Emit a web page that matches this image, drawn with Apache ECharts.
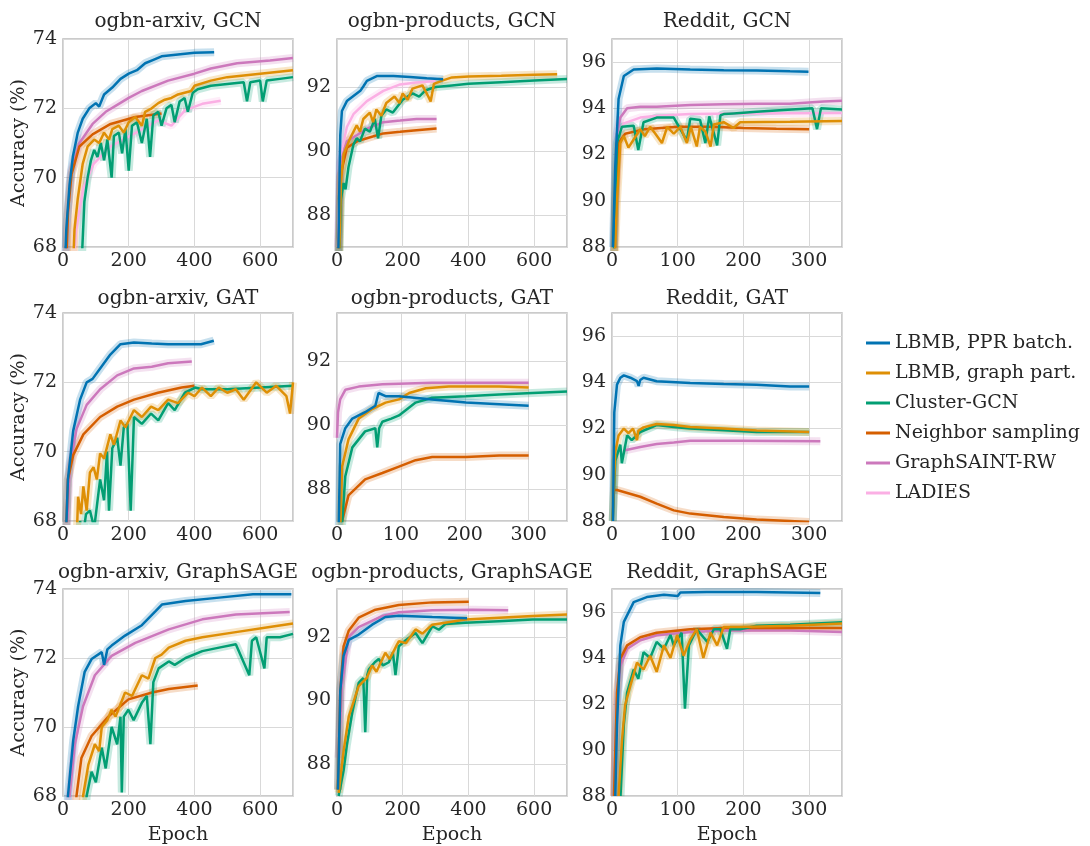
<!DOCTYPE html>
<html>
<head>
<meta charset="UTF-8">
<title>Accuracy vs epoch</title>
<script src="https://cdn.jsdelivr.net/npm/echarts@6/dist/echarts.min.js"></script>
<style>
  body { margin: 0; background: #fff; }
  #chart { width: 1090px; height: 846px; }
</style>
</head>
<body>
<div id="chart"></div>
<script>
// methods in legend order
const METHODS = ['LBMB, PPR batch.', 'LBMB, graph part.', 'Cluster-GCN', 'Neighbor sampling', 'GraphSAINT-RW', 'LADIES'];
const COLORS = ['#0173b2', '#de8f05', '#029e73', '#d55e00', '#cc78bc', '#fbafe4'];

// ---- ogbn-arxiv, GCN  [epoch, accuracy]
const aGcnPPR = [[0,66],[10,68.5],[20,69.8],[30,70.6],[45,71.3],[60,71.7],[80,72.0],[100,72.15],[110,72.05],[125,72.4],[150,72.6],[175,72.85],[200,73.0],[225,73.1],[250,73.3],[275,73.4],[300,73.5],[350,73.55],[400,73.6],[460,73.62]];
const aGcnPart = [[25,66],[35,68.5],[45,69.4],[60,70.4],[75,70.9],[95,71.1],[110,71.0],[125,71.3],[140,71.1],[150,71.4],[170,71.5],[185,71.3],[200,71.6],[220,71.75],[240,71.5],[250,71.9],[270,72.0],[290,72.15],[310,72.25],[330,72.3],[350,72.4],[370,72.45],[390,72.5],[400,72.65],[450,72.8],[500,72.9],[550,72.95],[600,73.0],[650,73.05],[700,73.1]];
const aGcnCluster = [[50,66],[58,67.8],[65,69.3],[75,70.0],[85,70.5],[95,70.8],[105,70.6],[115,71.0],[125,70.5],[135,71.1],[148,70.0],[155,71.2],[170,71.3],[180,70.7],[190,71.4],[200,70.2],[210,71.5],[225,71.6],[240,71.0],[255,71.7],[265,70.6],[275,71.8],[290,71.9],[300,71.5],[315,72.0],[330,72.1],[340,71.6],[355,72.2],[370,72.3],[380,71.9],[395,72.45],[410,72.55],[450,72.65],[500,72.7],[550,72.75],[560,72.2],[570,72.75],[600,72.8],[608,72.2],[620,72.8],[660,72.85],[700,72.9]];
const aGcnNeighbor = [[5,66],[15,69],[26,70.1],[50,70.9],[90,71.25],[145,71.55],[220,71.75],[300,71.85]];
const aGcnSaint = [[0,66],[15,69],[25,70.2],[50,71.0],[90,71.55],[130,71.9],[165,72.1],[200,72.3],[240,72.5],[320,72.8],[400,73.0],[450,73.15],[530,73.3],[630,73.38],[700,73.45]];
const aGcnLadies = [[20,66],[40,68.5],[62,69.7],[93,70.4],[145,70.9],[217,71.27],[289,71.65],[330,71.5],[372,71.95],[424,72.13],[480,72.22]];

// ---- ogbn-products, GCN
const bGcnPPR = [[3,86],[8,89.5],[10,90.5],[15,91.25],[30,91.56],[50,91.72],[71,91.88],[81,92.03],[91,92.19],[121,92.34],[172,92.34],[222,92.31],[273,92.27],[323,92.24]];
const bGcnPart = [[5,86],[12,89],[20,89.9],[40,90.4],[60,90.8],[70,90.6],[80,91.0],[100,91.2],[110,90.9],[120,91.3],[135,91.1],[150,91.5],[175,91.7],[190,91.5],[200,91.8],[215,91.6],[230,91.95],[260,92.05],[278,91.7],[285,91.55],[295,92.1],[320,92.2],[350,92.3],[400,92.33],[500,92.35],[600,92.38],[670,92.4]];
const bGcnCluster = [[5,86],[12,88.5],[20,89.0],[26,88.8],[35,89.5],[50,90.2],[60,90.4],[70,90.3],[85,90.7],[100,90.6],[115,91.0],[125,90.4],[135,91.1],[150,91.3],[170,91.2],[200,91.6],[230,91.8],[250,91.7],[270,91.9],[300,92.0],[350,92.05],[400,92.1],[500,92.15],[600,92.2],[700,92.25]];
const bGcnNeighbor = [[3,86],[10,89.2],[30,90.1],[61,90.3],[91,90.4],[141,90.55],[192,90.6],[242,90.65],[303,90.7]];
const bGcnSaint = [[3,86],[10,89.6],[30,90.3],[61,90.5],[91,90.7],[141,90.9],[192,90.95],[242,91.0],[303,91.0]];
const bGcnLadies = [[3,87],[10,89.8],[30,90.75],[50,91.15],[91,91.56],[141,91.88],[192,92.08],[242,92.14],[300,92.19]];

// ---- Reddit, GCN
const cGcnPPR = [[1.5,88],[5,91.5],[10,94.4],[18,95.4],[33,95.68],[68,95.72],[119,95.68],[170,95.65],[220,95.64],[271,95.6],[299,95.58]];
const cGcnPart = [[4,86],[5,88],[7.6,90],[12.7,92.5],[18,92.8],[25,92.3],[33,92.65],[43,93.1],[50,92.8],[58,93.2],[66,92.9],[76,92.5],[84,93.2],[94,92.9],[104,93.2],[114,92.5],[120,93.2],[129,92.35],[134,93.2],[142,93.0],[150,92.35],[155,93.3],[170,93.4],[185,93.15],[195,93.4],[271,93.42],[350,93.45]];
const cGcnCluster = [[1,86],[5,90.0],[7.6,92.5],[15,93.2],[33,93.25],[40,92.2],[48,93.4],[68,93.6],[94,93.6],[114,92.6],[119,93.55],[134,93.5],[142,92.5],[148,93.65],[160,92.4],[165,93.7],[170,93.75],[185,93.78],[220,93.85],[261,93.93],[305,94.0],[312,93.1],[318,94.0],[350,93.95]];
const cGcnNeighbor = [[2,86],[5,90],[10,92.5],[20,92.9],[50,93.1],[100,93.2],[150,93.2],[200,93.15],[250,93.12],[300,93.1]];
const cGcnSaint = [[1,86],[7.6,92.9],[12.7,93.6],[23,94.0],[43,94.07],[68,94.07],[119,94.14],[170,94.18],[220,94.2],[271,94.2],[322,94.3],[350,94.33]];
const cGcnLadies = [[3,88],[10,92.9],[18,93.35],[43,93.6],[68,93.68],[119,93.75],[200,93.78],[350,93.8]];

// ---- ogbn-arxiv, GAT
const dGatPPR = [[3,66],[15,69.2],[31,70.6],[52,71.5],[72,72.0],[90,72.1],[113,72.4],[144,72.8],[175,73.1],[216,73.15],[270,73.12],[320,73.1],[381,73.1],[420,73.1],[459,73.2]];
const dGatPart = [[40,67],[46,68.7],[55,68.2],[62,69.0],[72,68.3],[82,69.4],[93,69.55],[103,69.2],[113,69.95],[125,69.8],[144,70.5],[155,70.2],[175,70.9],[190,70.7],[216,71.2],[240,71.0],[268,71.3],[290,71.2],[320,71.5],[350,71.4],[381,71.7],[400,71.6],[423,71.85],[450,71.6],[474,71.85],[500,71.7],[526,71.8],[550,71.5],[588,72.0],[620,71.7],[649,71.9],[680,71.6],[691,71.1],[700,72.0]];
const dGatCluster = [[45,66],[52,68],[60,67.5],[70,68.2],[82,68.3],[95,67.8],[113,69.2],[125,68.6],[134,70.0],[140,68.3],[150,70.1],[165,70.4],[175,69.6],[185,70.7],[196,70.8],[206,68.3],[216,71.0],[240,70.8],[268,71.1],[290,70.9],[320,71.4],[340,71.2],[371,71.7],[402,71.85],[423,71.8],[500,71.8],[600,71.85],[700,71.9]];
const dGatNeighbor = [[3,66],[15,69.2],[31,69.9],[62,70.5],[113,71.0],[165,71.3],[216,71.5],[289,71.7],[361,71.85],[400,71.9]];
const dGatSaint = [[3,66],[21,69.6],[41,70.65],[72,71.35],[113,71.8],[165,72.2],[216,72.4],[270,72.45],[320,72.55],[392,72.6]];

// ---- ogbn-products, GAT
const eGatPPR = [[2,86],[5,89.4],[13,89.9],[24,90.2],[44,90.4],[60,90.6],[65,91.0],[76,90.9],[97,90.9],[149,90.8],[202,90.7],[254,90.65],[300,90.6]];
const eGatPart = [[4,86],[8,88.7],[18,89.55],[34,90.2],[55,90.5],[76,90.7],[97,90.8],[113,91.0],[139,91.15],[175,91.2],[254,91.2],[300,91.17]];
const eGatCluster = [[5,86],[13,88.4],[24,89.3],[44,89.8],[60,89.9],[63,89.3],[66,89.9],[71,90.1],[85,90.2],[97,90.3],[110,90.5],[123,90.7],[149,90.85],[202,90.9],[254,90.95],[306,91.0],[360,91.05]];
const eGatNeighbor = [[8,87],[18,87.8],[44,88.3],[71,88.5],[97,88.7],[123,88.9],[149,89.0],[202,89.0],[254,89.05],[300,89.05]];
const eGatSaint = [[0,89.6],[1.6,90.4],[5,90.8],[13,91.1],[34,91.2],[71,91.27],[149,91.32],[300,91.32]];

// ---- Reddit, GAT
const fGatPPR = [[1.5,88],[3.5,92.7],[7.6,93.9],[12.7,94.2],[18,94.3],[28,94.2],[38,94.05],[40.5,93.85],[43,94.1],[48,94.2],[68,94.05],[119,93.97],[170,93.93],[220,93.9],[271,93.82],[300,93.82]];
const fGatPart = [[1,88],[5,91.0],[10,91.7],[18,92.0],[25,91.8],[32,92.0],[38,91.5],[40,91.9],[48,92.05],[68,92.2],[94,92.15],[119,92.07],[170,92.0],[220,91.92],[300,91.85]];
const fGatCluster = [[1,88],[5,90.6],[12.7,91.3],[15,90.5],[23,91.7],[30,91.5],[43,91.85],[68,92.15],[94,92.07],[119,92.0],[170,91.93],[220,91.85],[300,91.85]];
const fGatNeighbor = [[1.5,89.34],[7.6,89.34],[43,89.05],[68,88.75],[94,88.46],[119,88.32],[170,88.17],[220,88.06],[271,88.0],[300,87.96]];
const fGatSaint = [[18,91.05],[43,91.2],[68,91.33],[94,91.4],[119,91.47],[195,91.47],[317,91.45]];

// ---- ogbn-arxiv, GraphSAGE
const gSagePPR = [[8,66],[15,68],[31,69.6],[46,70.6],[66,71.6],[87,71.97],[118,72.17],[125,71.8],[135,72.25],[148,72.36],[189,72.65],[240,72.95],[281,73.35],[301,73.55],[373,73.65],[475,73.75],[578,73.85],[695,73.85]];
const gSagePart = [[50,66],[61,68],[77,68.9],[97,69.5],[110,69.3],[118,70.0],[135,70.2],[148,70.5],[160,70.3],[189,71.0],[210,70.9],[240,71.5],[260,71.4],[281,72.0],[300,72.1],[322,72.3],[373,72.5],[424,72.6],[526,72.75],[629,72.9],[700,73.0]];
const gSageCluster = [[60,66],[72,68],[87,68.7],[100,68.4],[118,69.4],[130,68.8],[148,70.0],[165,69.5],[175,70.3],[179,68.1],[185,70.3],[199,70.5],[215,70.2],[240,70.7],[255,70.9],[266,69.5],[275,71.3],[291,71.7],[322,71.9],[340,71.8],[373,72.0],[424,72.2],[475,72.3],[526,72.4],[567,71.5],[575,72.5],[588,72.6],[613,71.7],[620,72.6],[660,72.6],[700,72.7]];
const gSageNeighbor = [[25,66],[41,68],[56,69.1],[87,69.74],[138,70.3],[199,70.8],[271,71.0],[322,71.1],[410,71.2]];
const gSageSaint = [[10,66],[20,68],[36,69.5],[61,70.6],[97,71.5],[148,72.06],[220,72.44],[322,72.83],[424,73.12],[526,73.26],[690,73.33]];

// ---- ogbn-products, GraphSAGE
const hSagePPR = [[3,87.2],[10,90.3],[20,91.4],[36,91.9],[66,92.07],[107,92.38],[147,92.62],[188,92.66],[290,92.62],[396,92.58]];
const hSagePart = [[5,87.1],[20,88.4],[36,89.5],[66,90.45],[90,90.7],[107,91.1],[120,90.9],[147,91.5],[160,91.3],[188,91.86],[210,91.8],[239,92.23],[260,92.1],[290,92.38],[391,92.54],[493,92.6],[595,92.65],[700,92.7]];
const hSageCluster = [[5,87],[20,87.8],[30,88.6],[46,89.6],[66,90.55],[80,90.7],[86,89.0],[92,90.8],[97,90.98],[115,91.2],[127,91.3],[140,91.1],[158,91.2],[170,91.5],[178,90.8],[188,91.7],[210,91.9],[239,92.12],[260,91.8],[290,92.33],[310,92.22],[330,92.4],[391,92.44],[493,92.49],[595,92.54],[700,92.54]];
const hSageNeighbor = [[3,87.2],[10,90.3],[20,91.7],[36,92.2],[66,92.6],[117,92.85],[188,93.0],[290,93.08],[401,93.1]];
const hSageSaint = [[5,88.2],[15,90.5],[36,92.0],[66,92.3],[137,92.65],[188,92.77],[290,92.83],[412,92.85],[521,92.83]];

// ---- Reddit, GraphSAGE
const iSagePPR = [[5,88],[7.6,91.1],[12.7,94.55],[18,95.57],[33,96.43],[53,96.65],[79,96.75],[100,96.7],[104,96.85],[144,96.87],[220,96.87],[317,96.83]];
const iSagePart = [[10,88],[15,90.35],[20,91.95],[28,92.8],[38,93.8],[48,93.5],[58,94.1],[68,93.4],[79,94.55],[89,94.0],[99,95.0],[109,94.1],[119,94.8],[129,95.25],[139,94.0],[150,95.1],[160,94.55],[170,95.35],[195,95.35],[271,95.4],[350,95.5]];
const iSageCluster = [[13,88],[18,91.1],[23,92.5],[33,93.5],[40,93.1],[48,94.25],[58,94.0],[68,94.7],[79,94.4],[89,95.0],[94,94.55],[106,95.1],[111,91.8],[117,94.55],[129,95.25],[145,94.7],[155,95.25],[165,95.25],[175,94.4],[180,95.25],[195,95.25],[220,95.4],[271,95.45],[350,95.55]];
const iSageNeighbor = [[3,88],[7.6,92.5],[12.7,93.97],[23,94.55],[43,94.9],[68,95.1],[119,95.25],[170,95.3],[271,95.3],[350,95.3]];
const iSageSaint = [[3,88],[7.6,92.2],[12.7,93.65],[23,94.4],[43,94.77],[68,94.99],[119,95.13],[170,95.2],[271,95.2],[350,95.13]];

// panel titles and per-method data (null = not run)
const panels = [
  { title: 'ogbn-arxiv, GCN', ds: 'arxiv', xMax: 700, lines: [aGcnPPR, aGcnPart, aGcnCluster, aGcnNeighbor, aGcnSaint, aGcnLadies] },
  { title: 'ogbn-products, GCN', ds: 'products', xMax: 700, lines: [bGcnPPR, bGcnPart, bGcnCluster, bGcnNeighbor, bGcnSaint, bGcnLadies] },
  { title: 'Reddit, GCN', ds: 'reddit', xMax: 350, lines: [cGcnPPR, cGcnPart, cGcnCluster, cGcnNeighbor, cGcnSaint, cGcnLadies] },
  { title: 'ogbn-arxiv, GAT', ds: 'arxiv', xMax: 700, lines: [dGatPPR, dGatPart, dGatCluster, dGatNeighbor, dGatSaint, null] },
  { title: 'ogbn-products, GAT', ds: 'products', xMax: 360, lines: [eGatPPR, eGatPart, eGatCluster, eGatNeighbor, eGatSaint, null] },
  { title: 'Reddit, GAT', ds: 'reddit', xMax: 350, lines: [fGatPPR, fGatPart, fGatCluster, fGatNeighbor, fGatSaint, null] },
  { title: 'ogbn-arxiv, GraphSAGE', ds: 'arxiv', xMax: 700, lines: [gSagePPR, gSagePart, gSageCluster, gSageNeighbor, gSageSaint, null] },
  { title: 'ogbn-products, GraphSAGE', ds: 'products', xMax: 700, lines: [hSagePPR, hSagePart, hSageCluster, hSageNeighbor, hSageSaint, null] },
  { title: 'Reddit, GraphSAGE', ds: 'reddit', xMax: 350, lines: [iSagePPR, iSagePart, iSageCluster, iSageNeighbor, iSageSaint, null] }
];

const FONT = 'DejaVu Serif';
const TXT = '#262626';
const colLeft = [63, 337, 612];
const rowTop = [39, 313, 589];
const W = 230, H = 208;
const titleTop = [12, 289, 563];

const grid = [], xAxis = [], yAxis = [], title = [], series = [];

panels.forEach((p, i) => {
  const r = Math.floor(i / 3), c = i % 3;
  grid.push({ left: colLeft[c], top: rowTop[r], width: W, height: H, show: true,
    borderColor: '#bababa', borderWidth: 1.5, backgroundColor: 'transparent' });
  title.push({ text: p.title, left: colLeft[c] + W / 2, top: titleTop[r], textAlign: 'center', padding: 0,
    textStyle: { fontFamily: FONT, fontSize: 20, fontWeight: 'normal', color: TXT } });

  xAxis.push({
    type: 'value', gridIndex: i, min: 0, max: p.xMax, interval: p.xMax > 400 ? 200 : 100,
    axisLine: { show: false }, axisTick: { show: false },
    axisLabel: { fontFamily: FONT, fontSize: 19, color: TXT, margin: 5, showMaxLabel: false },
    splitLine: { lineStyle: { color: '#d9d9d9', width: 1 } },
    name: r === 2 ? 'Epoch' : '', nameLocation: 'middle', nameGap: 30,
    nameTextStyle: { fontFamily: FONT, fontSize: 19, color: TXT }
  });

  const y = {
    type: 'value', gridIndex: i,
    axisLine: { show: false }, axisTick: { show: false },
    axisLabel: { fontFamily: FONT, fontSize: 19, color: TXT, margin: 6 },
    splitLine: { lineStyle: { color: '#d9d9d9', width: 1 } },
    name: c === 0 ? 'Accuracy (%)' : '', nameLocation: 'middle', nameGap: 27,
    nameTextStyle: { fontFamily: FONT, fontSize: 19, color: TXT }
  };
  if (p.ds === 'arxiv') { y.min = 68; y.max = 74; y.interval = 2; }
  else if (p.ds === 'products') { y.min = 87; y.max = 93.5; y.splitNumber = 3;
    y.axisLabel.showMinLabel = false; y.axisLabel.showMaxLabel = false; }
  else { y.min = 88; y.max = 97; y.interval = 2; y.axisLabel.showMaxLabel = false; }
  yAxis.push(y);

  // draw later methods first so LBMB ends up on top
  for (let m = METHODS.length - 1; m >= 0; m--) {
    const d = p.lines[m];
    if (!d) continue;
    series.push({
      name: METHODS[m] + ' band', type: 'line', xAxisIndex: i, yAxisIndex: i, data: d,
      symbol: 'none', silent: true, z: 1,
      lineStyle: { color: COLORS[m], width: 8, opacity: 0.22 }
    });
    series.push({
      name: METHODS[m], type: 'line', xAxisIndex: i, yAxisIndex: i, data: d,
      symbol: 'none', z: 2,
      itemStyle: { color: COLORS[m] },
      lineStyle: { color: COLORS[m], width: 2.5 }
    });
  }
});

const chart = echarts.init(document.getElementById('chart'));
chart.setOption({
  animation: false,
  backgroundColor: '#fff',
  title, grid, xAxis, yAxis, series,
  legend: {
    data: METHODS, orient: 'vertical', left: 861, top: 327,
    icon: 'rect', itemWidth: 24, itemHeight: 3, itemGap: 8,
    textStyle: { fontFamily: FONT, fontSize: 19, color: TXT, lineHeight: 22 }
  }
});
</script>
</body>
</html>
